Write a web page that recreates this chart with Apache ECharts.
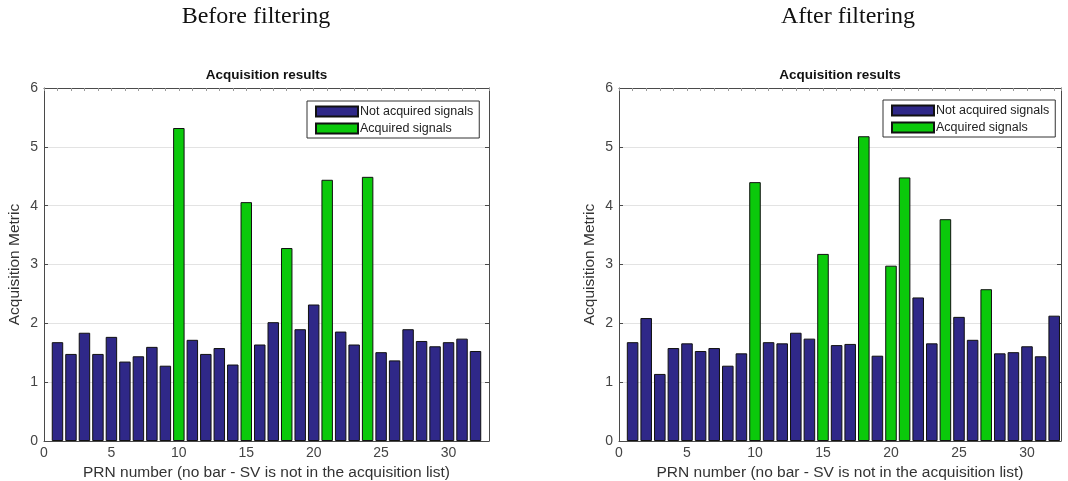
<!DOCTYPE html>
<html>
<head>
<meta charset="utf-8">
<script src="https://cdn.jsdelivr.net/npm/echarts@6/dist/echarts.min.js"></script>
<style>
  html, body { margin: 0; padding: 0; background: #fff; }
  #chart { width: 1068px; height: 481px; }
</style>
</head>
<body>
<div id="chart"></div>
<script>
// PRN numbers of the satellites searched
const prn = [1,2,3,4,5,6,7,8,9,10,11,12,13,14,15,16,17,18,19,20,21,22,23,24,25,26,27,28,29,30,31,32];

// Acquisition metric per PRN, before filtering
const beforeMetric = [1.68,1.48,1.84,1.48,1.77,1.35,1.44,1.60,1.28,5.32,
                      1.72,1.48,1.58,1.30,4.06,1.64,2.02,3.28,1.90,2.32,
                      4.44,1.86,1.64,4.49,1.51,1.37,1.90,1.70,1.61,1.68,
                      1.74,1.53];
const beforeAcquired = [10,15,18,21,24];

// Acquisition metric per PRN, after filtering
const afterMetric = [1.68,2.09,1.14,1.58,1.66,1.53,1.58,1.28,1.49,4.40,
                     1.68,1.66,1.84,1.74,3.18,1.63,1.65,5.18,1.45,2.98,
                     4.48,2.44,1.66,3.77,2.11,1.72,2.58,1.49,1.51,1.61,
                     1.44,2.13];
const afterAcquired = [10,15,18,20,21,24,27];

const yTicks = [0,1,2,3,4,5,6];
const seriesNames = ['Not acquired signals', 'Acquired signals'];
const panelTitles = ['Before filtering', 'After filtering'];
const plotTitle = 'Acquisition results';
const xName = 'PRN number (no bar - SV is not in the acquisition list)';
const yName = 'Acquisition Metric';

const NAVY = '#2f2888';
const GREEN = '#0bc90b';
const FRAME = '#4a4a4a';
const SANS = '"Liberation Sans", Arial, Helvetica, sans-serif';

// plot boxes in page pixels
const panels = [
  { left: 44, right: 489, top: 88, bottom: 441, xMax: 33, values: beforeMetric, acquired: beforeAcquired, legendLeft: 307, legendTop: 101, titleX: 256 },
  { left: 619, right: 1061, top: 88, bottom: 441, xMax: 32.5, values: afterMetric, acquired: afterAcquired, legendLeft: 883, legendTop: 100, titleX: 848 }
];

const W = 1068, H = 481;
const grid = [], xAxis = [], yAxis = [], series = [], legend = [], graphic = [];

panels.forEach((p, i) => {
  const unitPx = (p.right - p.left) / p.xMax;
  const barW = unitPx * 0.85;
  grid.push({
    left: p.left, top: p.top, width: p.right - p.left, height: p.bottom - p.top,
    containLabel: false, outerBoundsMode: 'none'
  });

  // bottom axis with labels
  xAxis.push({
    type: 'value', gridIndex: i, min: 0, max: p.xMax, interval: 5, position: 'bottom',
    name: xName, nameLocation: 'middle', nameGap: 17,
    nameTextStyle: { fontFamily: SANS, fontSize: 15.5, color: '#333' },
    axisLine: { show: true, onZero: false, lineStyle: { color: FRAME, width: 1 } },
    axisTick: { show: true, inside: true, length: 4, lineStyle: { color: FRAME } },
    axisLabel: { fontFamily: SANS, fontSize: 14, color: '#444', margin: 5,
                 formatter: v => (v % 5 === 0 ? String(v) : '') },
    splitLine: { show: false }
  });
  // top frame edge with small per-unit ticks
  xAxis.push({
    type: 'value', gridIndex: i, min: 0, max: p.xMax, interval: 1, position: 'top',
    axisLine: { show: true, onZero: false, lineStyle: { color: FRAME, width: 1 } },
    axisTick: { show: true, inside: true, length: 3, lineStyle: { color: '#999' } },
    axisLabel: { show: false }, splitLine: { show: false }
  });
  yAxis.push({
    type: 'value', gridIndex: i, min: yTicks[0], max: yTicks[yTicks.length - 1], interval: 1, position: 'left',
    name: yName, nameLocation: 'middle', nameGap: 21, nameRotate: 90,
    nameTextStyle: { fontFamily: SANS, fontSize: 15.5, color: '#333' },
    axisLine: { show: true, onZero: false, lineStyle: { color: FRAME, width: 1 } },
    axisTick: { show: true, inside: true, length: 4, lineStyle: { color: FRAME } },
    axisLabel: { fontFamily: SANS, fontSize: 14, color: '#444', margin: 6 },
    splitLine: { show: true, lineStyle: { color: '#e3e3e3', width: 1 } }
  });
  yAxis.push({
    type: 'value', gridIndex: i, min: yTicks[0], max: yTicks[yTicks.length - 1], interval: 1, position: 'right',
    axisLine: { show: true, onZero: false, lineStyle: { color: FRAME, width: 1 } },
    axisTick: { show: true, inside: true, length: 4, lineStyle: { color: FRAME } },
    axisLabel: { show: false }, splitLine: { show: false }
  });

  const notAcq = [], acq = [];
  prn.forEach((n, k) => {
    (p.acquired.includes(n) ? acq : notAcq).push([n, p.values[k]]);
  });

  const base = {
    type: 'bar', xAxisIndex: i * 2, yAxisIndex: i * 2, barWidth: barW, barGap: '-100%',
    silent: true, animation: false
  };
  series.push(Object.assign({}, base, {
    name: seriesNames[0], data: notAcq,
    itemStyle: { color: NAVY, borderColor: '#111', borderWidth: 1 }
  }));
  series.push(Object.assign({}, base, {
    name: seriesNames[1], data: acq,
    itemStyle: { color: GREEN, borderColor: '#111', borderWidth: 1 }
  }));

  legend.push({
    data: seriesNames, orient: 'vertical', left: p.legendLeft, top: p.legendTop,
    itemWidth: 42, itemHeight: 10, itemGap: 4, padding: [4, 6, 3, 8],
    backgroundColor: '#fff', borderColor: '#333', borderWidth: 1, borderRadius: 0,
    icon: 'rect', selectedMode: false,
    textStyle: { fontFamily: SANS, fontSize: 12.5, color: '#222', padding: [0, 0, 0, -3] }
  });

  const cx = (p.left + p.right) / 2;
  graphic.push({
    type: 'text', silent: true,
    style: { x: cx, y: 75, text: plotTitle, align: 'center', verticalAlign: 'middle',
             font: 'bold 13.5px ' + SANS, fill: '#111' }
  });
  graphic.push({
    type: 'text', silent: true,
    style: { x: p.titleX, y: 17, text: panelTitles[i], align: 'center', verticalAlign: 'middle',
             font: '24px "Liberation Serif", "Times New Roman", serif', fill: '#111' }
  });
});

const chart = echarts.init(document.getElementById('chart'), null, { renderer: 'canvas', width: W, height: H });
chart.setOption({
  backgroundColor: '#fff',
  animation: false,
  grid, xAxis, yAxis, series, legend, graphic
});
</script>
</body>
</html>
